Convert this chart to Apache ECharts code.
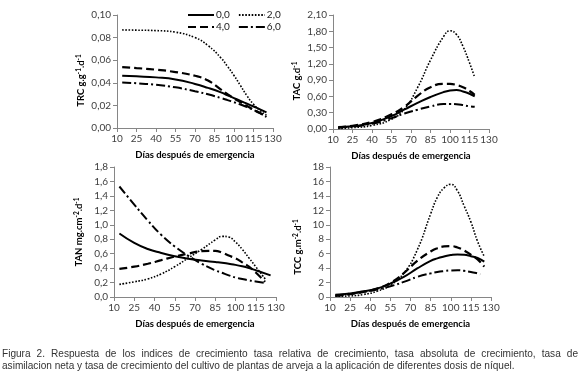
<!DOCTYPE html>
<html>
<head>
<meta charset="utf-8">
<script src="https://cdn.jsdelivr.net/npm/echarts@6/dist/echarts.min.js"></script>
<style>
  html, body { margin: 0; padding: 0; background: #fff; }
  #chart { width: 580px; height: 377px; }
</style>
</head>
<body>
<div id="chart"></div>
<script>
// doses (legend)
var doses = ["0,0", "2,0", "4,0", "6,0"];

// TRC panel
var trcDays = [14, 25, 40, 55, 70, 80, 90, 95, 100, 105, 110, 115, 120, 125];
var trc00 = [0.0462, 0.0457, 0.0448, 0.0430, 0.0390, 0.0355, 0.0315, 0.0290, 0.0265, 0.0240, 0.0215, 0.0190, 0.0165, 0.0138];
var trc20 = [0.0868, 0.0866, 0.0862, 0.0848, 0.0800, 0.0730, 0.0620, 0.0545, 0.0465, 0.0375, 0.0285, 0.0210, 0.0155, 0.0115];
var trc40 = [0.0538, 0.0530, 0.0516, 0.0495, 0.0462, 0.0420, 0.0340, 0.0300, 0.0262, 0.0228, 0.0195, 0.0162, 0.0132, 0.0105];
var trc60 = [0.0403, 0.0396, 0.0382, 0.0360, 0.0325, 0.0298, 0.0265, 0.0247, 0.0228, 0.0208, 0.0185, 0.0160, 0.0132, 0.0098];

// TAC panel
var tacDays = [14, 25, 40, 55, 65, 75, 85, 95, 100, 105, 110, 115, 119];
var tac00 = [0.037, 0.050, 0.110, 0.240, 0.360, 0.480, 0.590, 0.680, 0.710, 0.720, 0.690, 0.650, 0.600];
var tac20 = [0.010, 0.025, 0.065, 0.180, 0.370, 0.760, 1.270, 1.700, 1.810, 1.740, 1.520, 1.220, 0.950];
var tac40 = [0.025, 0.060, 0.130, 0.270, 0.410, 0.610, 0.770, 0.830, 0.830, 0.810, 0.770, 0.700, 0.630];
var tac60 = [0.025, 0.045, 0.095, 0.200, 0.285, 0.355, 0.415, 0.460, 0.460, 0.455, 0.440, 0.420, 0.410];

// TAN panel
var tanDays = [14, 25, 35, 45, 55, 65, 75, 85, 90, 95, 100, 105, 110, 115, 122];
var tanDaysLong = [14, 25, 35, 45, 55, 65, 75, 85, 90, 95, 100, 105, 110, 115, 126];
var tan00 = [0.88, 0.75, 0.665, 0.61, 0.565, 0.53, 0.505, 0.485, 0.475, 0.46, 0.445, 0.425, 0.40, 0.37, 0.30];
var tan20 = [0.175, 0.21, 0.25, 0.32, 0.42, 0.54, 0.66, 0.79, 0.84, 0.83, 0.76, 0.66, 0.54, 0.42, 0.25];
var tan40 = [0.39, 0.42, 0.46, 0.51, 0.56, 0.60, 0.635, 0.64, 0.615, 0.575, 0.535, 0.48, 0.42, 0.34, 0.21];
var tan60 = [1.53, 1.28, 1.06, 0.86, 0.70, 0.57, 0.46, 0.37, 0.335, 0.30, 0.27, 0.25, 0.23, 0.215, 0.195];

// TCC panel
var tccDays = [14, 25, 35, 45, 55, 65, 75, 85, 90, 95, 100, 105, 110, 115, 120, 125];
var tccDaysShort = [14, 25, 35, 45, 55, 65, 75, 85, 90, 95, 100, 105, 110, 115, 119, 122];
var tcc00 = [0.32, 0.50, 0.80, 1.16, 1.86, 2.78, 3.95, 5.00, 5.35, 5.60, 5.80, 5.90, 5.85, 5.65, 5.40, 4.90];
var tcc20 = [0.10, 0.15, 0.35, 0.79, 1.65, 3.30, 6.50, 11.5, 13.8, 15.1, 15.6, 14.7, 12.6, 10.4, 7.70, 5.60];
var tcc40 = [0.14, 0.38, 0.70, 1.16, 1.95, 3.30, 5.00, 6.30, 6.75, 7.00, 7.05, 6.85, 6.45, 5.85, 5.20, 4.20];
var tcc60 = [0.23, 0.45, 0.70, 1.02, 1.48, 2.09, 2.78, 3.27, 3.45, 3.58, 3.68, 3.70, 3.62, 3.45, 3.32, 3.15];

var xTitle = "Días después de emergencia";
var caption1 = "Figura 2. Respuesta de los indices de crecimiento tasa relativa de crecimiento, tasa absoluta de crecimiento, tasa de";
var caption2 = "asimilacion neta y tasa de crecimiento del cultivo de plantas de arveja a la aplicación de diferentes dosis de níquel.";

var FONT = "Lato, 'Liberation Sans', sans-serif";
var styles = [
  { type: "solid", width: 2 },
  { type: [1.6, 1.6], width: 1.6 },
  { type: [8, 4], width: 2.2 },
  { type: [9, 3, 2, 3], width: 2 }
];

function pairs(days, vals) {
  return days.map(function (d, i) { return [d, vals[i]]; });
}
function mk(idx, k, days, vals) {
  return {
    type: "line",
    name: doses[k],
    xAxisIndex: idx,
    yAxisIndex: idx,
    data: pairs(days, vals),
    smooth: 0.5,
    symbol: "none",
    color: "#000",
    lineStyle: { color: "#000", type: styles[k].type, width: styles[k].width, cap: "butt" },
    z: k == 0 ? 5 : 3
  };
}
function comma(d) {
  return function (v) { return v.toFixed(d).replace(".", ","); };
}

var grids = [
  { left: 117, top: 15, width: 156, height: 113 },
  { left: 333, top: 15, width: 156, height: 114 },
  { left: 114, top: 167, width: 162, height: 130 },
  { left: 330, top: 167, width: 161, height: 130 }
];

var yNames = [
  "{b|TRC g.g}{s|-1}{b|.d}{s|-1}",
  "{b|TAC g.d}{s|-1}",
  "{b|TAN mg.cm}{s|-2}{b|.d}{s|-1}",
  "{b|TCC g.m}{s|-2}{b|.d}{s|-1}"
];
var yMax = [0.10, 2.10, 1.8, 18];
var yStep = [0.02, 0.30, 0.2, 2];
var yDec = [2, 2, 1, 0];
var yPad = [[0, 18, 0, 0], [0, 18, 0, 0], [0, 0, 0, 0], [0, 30, 0, 0]];
var yGap = [30, 30, 29, 26];

var axisGray = "#868686";
var xAxes = [], yAxes = [];
for (var i = 0; i < 4; i++) {
  xAxes.push({
    type: "value", gridIndex: i, min: 10, max: 130, interval: 15,
    name: xTitle, nameLocation: "middle", nameGap: 22,
    nameTextStyle: { fontFamily: FONT, fontWeight: "bold", fontSize: 9.5, color: "#000" },
    axisLine: { show: true, lineStyle: { color: axisGray, width: 1 } },
    axisTick: { show: true, length: 4, lineStyle: { color: axisGray } },
    axisLabel: { fontFamily: FONT, fontSize: 10, color: "#404040", margin: 6 },
    splitLine: { show: false }
  });
  yAxes.push({
    type: "value", gridIndex: i, min: 0, max: yMax[i], interval: yStep[i],
    name: yNames[i], nameLocation: "middle", nameRotate: 90, nameGap: yGap[i],
    nameTextStyle: {
      padding: yPad[i],
      rich: {
        b: { fontFamily: FONT, fontWeight: "bold", fontSize: 9.5, color: "#000", lineHeight: 12 },
        s: { fontFamily: FONT, fontWeight: "bold", fontSize: 6.5, color: "#000", verticalAlign: "top", lineHeight: 12 }
      }
    },
    axisLine: { show: true, lineStyle: { color: axisGray, width: 1 } },
    axisTick: { show: true, length: 4, lineStyle: { color: axisGray } },
    axisLabel: { fontFamily: FONT, fontSize: 10, color: "#404040", margin: 6, formatter: comma(yDec[i]) },
    splitLine: { show: false }
  });
}

var series = [
  mk(0, 0, trcDays, trc00), mk(0, 1, trcDays, trc20), mk(0, 2, trcDays, trc40), mk(0, 3, trcDays, trc60),
  mk(1, 0, tacDays, tac00), mk(1, 1, tacDays, tac20), mk(1, 2, tacDays, tac40), mk(1, 3, tacDays, tac60),
  mk(2, 0, tanDaysLong, tan00), mk(2, 1, tanDays, tan20), mk(2, 2, tanDays, tan40), mk(2, 3, tanDays, tan60),
  mk(3, 0, tccDays, tcc00), mk(3, 1, tccDays, tcc20), mk(3, 2, tccDays, tcc40), mk(3, 3, tccDaysShort, tcc60)
];

// caption, first line justified like the printed figure
var CAP_FONT = "'Liberation Sans', Arial, sans-serif";
var ctx = document.createElement("canvas").getContext("2d");
ctx.font = "10px " + CAP_FONT;
var capSize = 10 * 513 / ctx.measureText(caption2).width;
ctx.font = capSize + "px " + CAP_FONT;
var words = caption1.split(" ");
var wordW = words.map(function (w) { return ctx.measureText(w).width; });
var sumW = wordW.reduce(function (a, b) { return a + b; }, 0);
var gap = (576 - sumW) / (words.length - 1);
var graphics = [];
var cx = 2;
words.forEach(function (w, i) {
  graphics.push({ type: "text", left: cx, top: 349, style: { text: w, font: capSize + "px " + CAP_FONT, fill: "#333" } });
  cx += wordW[i] + gap;
});
graphics.push({ type: "text", left: 2, top: 361, style: { text: caption2, font: capSize + "px " + CAP_FONT, fill: "#333" } });

var legendBase = {
  itemWidth: 26, itemHeight: 10, itemGap: 8, left: 182,
  selectedMode: false,
  itemStyle: { opacity: 0 },
  textStyle: { fontFamily: FONT, fontSize: 10, color: "#222", padding: [0, 0, 0, -3] }
};

var myChart = echarts.init(document.getElementById("chart"), null, { renderer: "canvas" });
myChart.setOption({
  animation: false,
  grid: grids,
  xAxis: xAxes,
  yAxis: yAxes,
  legend: [
    Object.assign({}, legendBase, { top: 5, data: ["0,0", "2,0"] }),
    Object.assign({}, legendBase, { top: 17, data: ["4,0", "6,0"] })
  ],
  graphic: graphics,
  series: series
});
</script>
</body>
</html>
